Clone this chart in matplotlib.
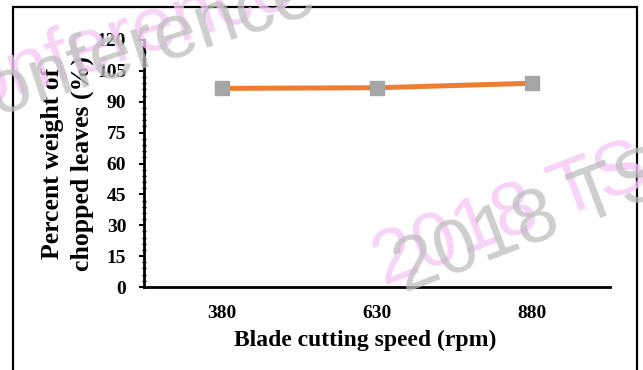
import matplotlib.pyplot as plt
from matplotlib.patches import Rectangle
from matplotlib.ticker import MultipleLocator

speeds = ["380", "630", "880"]
percent_chopped = [96.5, 96.8, 99.0]
y_ticks = [0, 15, 30, 45, 60, 75, 90, 105, 120]

plt.rcParams["font.family"] = ["Liberation Serif", "DejaVu Serif"]

fig = plt.figure(figsize=(6.43, 3.70), dpi=100)
ax = fig.add_axes([144 / 643, 1 - 287 / 370, 466 / 643, 247 / 370])

# outer frame around the whole chart
fig.patches.append(Rectangle((13 / 643, -0.05), 624 / 643, 1.05 - 7 / 370,
                             transform=fig.transFigure, fill=False,
                             edgecolor="black", linewidth=1.6))

x = range(len(speeds))
ax.plot(x, percent_chopped, color="#ED7D31", linewidth=3.6, zorder=3)
ax.plot(x, percent_chopped, linestyle="none", marker="s", markersize=10,
        color="#A5A5A5", markeredgecolor="#A5A5A5", zorder=4)

ax.set_xlim(-0.5, len(speeds) - 0.5)
ax.set_ylim(0, 120)
ax.set_xticks(list(x))
ax.set_xticklabels(speeds, fontsize=14, fontweight="bold")
ax.set_yticks(y_ticks)
ax.set_yticklabels([str(v) for v in y_ticks], fontsize=14, fontweight="bold")
ax.yaxis.set_minor_locator(MultipleLocator(3))

for side in ("top", "right"):
    ax.spines[side].set_visible(False)
ax.spines["left"].set_linewidth(2)
ax.spines["bottom"].set_linewidth(2)
ax.tick_params(axis="x", length=0, pad=13)
ax.tick_params(axis="y", which="major", direction="out", length=3.8, width=1.5, pad=9)
ax.tick_params(axis="y", which="minor", direction="inout", length=3, width=1)

ax.set_xlabel("Blade cutting speed (rpm)", fontsize=17, fontweight="bold")
ax.xaxis.set_label_coords(0.474, -0.172)
ax.set_ylabel("Percent weight of\nchopped leaves (%)", fontsize=18.5,
              fontweight="bold", linespacing=1.35)
ax.yaxis.set_label_coords(-0.107, 0.5)

# watermark, pink copy with a grey copy offset below-right
marks = [("Conference", -0.121, 0.662, 18), ("2018 TS", 0.596, 0.227, 21)]
for text, fx, fy, rot in marks:
    for dx, dy, col, a in ((0.0, 0.0, "#F7C8F7", 0.8), (0.034, -0.019, "#BEBEBE", 0.75)):
        fig.text(fx + dx, fy + dy, text, fontsize=55, color=col, alpha=a,
                 family="Liberation Sans", rotation=rot, rotation_mode="anchor",
                 ha="left", va="baseline", zorder=10)

fig.savefig("out.png", dpi=100)
